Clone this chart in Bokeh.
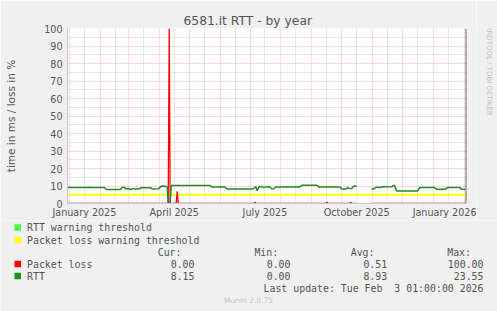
import math
import pandas as pd
from bokeh.plotting import figure
from bokeh.layouts import column, row
from bokeh.models import (Range1d, FixedTicker, DatetimeTickFormatter, Title, Span)
from bokeh.core.properties import value
from bokeh.embed import file_html
from bokeh.resources import INLINE

# ---------------- data ----------------
TITLE = "6581.it RTT - by year"
Y_LABEL = "time in ms / loss in %"
SIDE_TEXT = "RRDTOOL / TOBI OETIKER"
FOOTER = "Munin 2.0.75"
RANGE_START = "2024-12-30 01:00"
RANGE_END = "2026-02-03 01:00"
Y_TICKS = [0, 10, 20, 30, 40, 50, 60, 70, 80, 90, 100]
Y_MINOR = [5, 15, 25, 35, 45, 55, 65, 75, 85, 95]
X_LABEL_DATES = ["2025-01-16", "2025-04-16", "2025-07-16", "2025-10-16", "2026-01-16"]
MONTH_STARTS = ["2025-01-01", "2025-02-01", "2025-03-01", "2025-04-01", "2025-05-01",
                "2025-06-01", "2025-07-01", "2025-08-01", "2025-09-01", "2025-10-01",
                "2025-11-01", "2025-12-01", "2026-01-01", "2026-02-01"]
MID_MONTHS = ["2025-01-16", "2025-02-16", "2025-03-16", "2025-04-16", "2025-05-16",
              "2025-06-16", "2025-07-16", "2025-08-16", "2025-09-16", "2025-10-16",
              "2025-11-16", "2025-12-16", "2026-01-16"]

NaN = float("nan")

RTT_DATES = ["2024-12-30", "2025-01-19", "2025-01-20", "2025-01-21", "2025-02-05",
             "2025-02-07", "2025-02-21", "2025-02-23", "2025-02-25", "2025-02-27",
             "2025-03-01", "2025-03-03", "2025-03-05", "2025-03-08", "2025-03-12",
             "2025-03-14", "2025-03-23", "2025-03-25", "2025-03-31", "2025-04-03",
             "2025-04-05", "2025-04-09", "2025-04-10", "2025-04-12", "2025-04-13",
             "2025-05-22", "2025-05-24", "2025-06-06", "2025-06-08", "2025-07-04",
             "2025-07-06", "2025-07-07", "2025-07-08", "2025-07-10", "2025-07-12",
             "2025-07-14", "2025-07-17", "2025-07-21", "2025-07-23", "2025-07-25",
             "2025-07-27", "2025-08-20", "2025-08-22", "2025-09-06", "2025-09-08",
             "2025-09-29", "2025-10-01", "2025-10-05", "2025-10-07", "2025-10-09",
             "2025-10-11", "2025-10-13", "2025-10-16", "2025-10-23", "2025-10-31",
             "2025-11-03", "2025-11-05", "2025-11-08", "2025-11-12", "2025-11-20",
             "2025-11-22", "2025-11-23", "2025-11-25", "2025-12-16", "2025-12-18",
             "2026-01-02", "2026-01-04", "2026-01-13", "2026-01-15", "2026-01-27",
             "2026-01-29", "2026-02-02"]
RTT_MS = [9.1, 9.1, 9.3, 9.1, 9.1,
          8.0, 8.0, 9.3, 9.3, 8.2,
          8.6, 8.0, 8.5, 8.3, 8.4,
          9.0, 9.0, 8.3, 8.4, 9.8,
          10.0, 9.6, 0.0, 0.0, 10.3,
          10.3, 9.4, 9.4, 8.3, 8.3,
          9.3, 9.6, 7.4, 9.4, 9.8,
          9.2, 9.5, 9.4, 8.3, 8.5,
          9.5, 9.5, 10.4, 10.4, 9.5,
          9.5, 8.3, 8.3, 9.0, 8.5,
          8.6, 10.0, 10.0, NaN, 8.0,
          8.8, 9.4, 9.2, 9.6, 9.5,
          10.3, 10.3, 7.1, 7.1, 9.1,
          9.1, 8.2, 8.2, 9.2, 9.2,
          8.2, 8.2]

LOSS_DATES = ["2024-12-30", "2025-04-10", "2025-04-11", "2025-04-12", "2025-04-18",
              "2025-04-19", "2025-04-20", "2025-07-05", "2025-07-06", "2025-07-07",
              "2025-09-15", "2025-09-16", "2025-09-17", "2025-10-09", "2025-10-10",
              "2025-10-11", "2025-10-16", "2025-10-23", "2025-10-31", "2026-02-02"]
LOSS_PCT = [0.0, 0.0, 100.0, 0.0, 0.0,
            7.0, 0.0, 0.0, 0.7, 0.0,
            0.0, 0.7, 0.0, 0.0, 0.7,
            0.0, 0.0, NaN, 0.0, 0.0]

LOSS_WARN = 5

LEGEND_NAMES = ["RTT warning threshold", "Packet loss warning threshold", "Packet loss", "RTT"]
LEGEND_COLORS = ["#44FF44", "#FFFF00", "#FF0000", "#228B22"]
STAT_HEADERS = ["Cur:", "Min:", "Avg:", "Max:"]
STATS_LOSS = ["0.00", "0.00", "0.51", "100.00"]
STATS_RTT = ["8.15", "0.00", "8.93", "23.55"]
LAST_UPDATE = "Last update: Tue Feb \u00a03 01:00:00 2026"

# ---------------- layout ----------------
W = 497
MAIN_W = 476
TOP_H, BOT_H = 220, 91
FL, FR, FT, FB = 67, 466, 28, 203   # frame edges in canvas pixels
BG = "#F0F0F0"
TXT = "#555555"
AXIS_BLUE = "#C4C4F4"


def ms(d):
    return (pd.Timestamp(d) - pd.Timestamp("1970-01-01")).total_seconds() * 1000.0


x0, x1 = pd.Timestamp(RANGE_START), pd.Timestamp(RANGE_END)

p = figure(width=MAIN_W, height=TOP_H, x_axis_type="datetime", output_backend="svg",
           toolbar_location=None,
           x_range=Range1d(x0, x1), y_range=Range1d(0, 100),
           min_border_left=FL, min_border_right=MAIN_W - FR,
           min_border_top=FT, min_border_bottom=TOP_H - FB,
           background_fill_color="white", border_fill_color=BG,
           outline_line_color=None)

p.title = Title(text=TITLE, align="left", offset=116, standoff=2,
                text_font="DejaVu Sans", text_font_size="12.3px",
                text_font_style="normal", text_color=TXT)

# grids
p.xgrid.ticker = FixedTicker(ticks=[ms(d) for d in MONTH_STARTS],
                             minor_ticks=[ms(d) for d in MID_MONTHS])
p.ygrid.ticker = FixedTicker(ticks=Y_TICKS, minor_ticks=Y_MINOR)
for g in (p.xgrid, p.ygrid):
    g.grid_line_color = "#FF0000"
    g.grid_line_alpha = 0.3
    g.grid_line_dash = "1 1"
    g.minor_grid_line_color = "#808080"
    g.minor_grid_line_alpha = 0.35
    g.minor_grid_line_dash = "1 1"

# axes
p.xaxis.ticker = FixedTicker(ticks=[ms(d) for d in X_LABEL_DATES])
p.xaxis.formatter = DatetimeTickFormatter(
    years="%B %Y", months="%B %Y", days="%B %Y", hours="%B %Y",
    minutes="%B %Y", seconds="%B %Y", milliseconds="%B %Y", minsec="%B %Y",
    hourmin="%B %Y")
p.yaxis.ticker = FixedTicker(ticks=Y_TICKS)
for ax in (p.xaxis, p.yaxis):
    ax.axis_line_color = AXIS_BLUE
    ax.major_tick_out = 0
    ax.major_tick_in = 0
    ax.minor_tick_out = 0
    ax.minor_tick_in = 0
    ax.major_label_text_font = "DejaVu Sans"
    ax.major_label_text_font_size = "9.6px"
    ax.major_label_text_color = TXT
p.xaxis.major_label_standoff = 3
p.yaxis.major_label_standoff = 5
p.yaxis.axis_label = Y_LABEL
p.yaxis.axis_label_text_font = "DejaVu Sans"
p.yaxis.axis_label_text_font_size = "10.5px"
p.yaxis.axis_label_text_font_style = "normal"
p.yaxis.axis_label_text_color = TXT
p.yaxis.axis_label_standoff = 24

p.add_layout(Span(location=x1, dimension="height", line_color="#606060", line_width=2))

# series
p.line(x=[x0, x1], y=[LOSS_WARN, LOSS_WARN], line_color="#FFFF00", line_width=2)
p.line(x=pd.to_datetime(LOSS_DATES), y=LOSS_PCT, line_color="#FF0000", line_width=1.3)
p.line(x=pd.to_datetime(RTT_DATES), y=RTT_MS, line_color="#228B22", line_width=1.5)

# ---------------- side strip (pixel coordinates) ----------------
s = figure(width=W - MAIN_W, height=TOP_H, output_backend="svg", toolbar_location=None,
           x_range=Range1d(MAIN_W, W), y_range=Range1d(TOP_H, 0),
           min_border=0, x_axis_location=None, y_axis_location=None,
           background_fill_color=BG, border_fill_color=BG, outline_line_color=None)
s.grid.visible = False
s.text(x=[488], y=[53], text=[SIDE_TEXT], text_font=value("DejaVu Sans"),
       text_font_size=value("7px"), text_color="#C0C0C0", text_align="center",
       text_baseline="middle", angle=-math.pi / 2)

# ---------------- legend panel (pixel coordinates) ----------------
q = figure(width=W, height=BOT_H, output_backend="svg", toolbar_location=None,
           x_range=Range1d(0, W), y_range=Range1d(TOP_H + BOT_H, TOP_H),
           min_border=0, x_axis_location=None, y_axis_location=None,
           background_fill_color=BG, border_fill_color=BG, outline_line_color=None)
q.grid.visible = False

MONO = value("DejaVu Sans Mono")
FS = value("9.9px")
rows_y = [227, 239.5, 263.5, 275.5]
q.quad(left=[14] * 4, right=[20.5] * 4, top=[y - 3.2 for y in rows_y],
       bottom=[y + 3.2 for y in rows_y], fill_color=LEGEND_COLORS, line_color=None)
q.text(x=[26.5] * 4, y=rows_y, text=LEGEND_NAMES, text_font=MONO, text_font_size=FS,
       text_color=TXT, text_align="left", text_baseline="middle")

hdr_right = [181, 277.7, 374, 470.5]
val_right = [194, 290, 386.7, 483]
q.text(x=hdr_right, y=[252] * 4, text=STAT_HEADERS, text_font=MONO, text_font_size=FS,
       text_color=TXT, text_align="right", text_baseline="middle")
q.text(x=val_right, y=[263.5] * 4, text=STATS_LOSS, text_font=MONO, text_font_size=FS,
       text_color=TXT, text_align="right", text_baseline="middle")
q.text(x=val_right, y=[275.5] * 4, text=STATS_RTT, text_font=MONO, text_font_size=FS,
       text_color=TXT, text_align="right", text_baseline="middle")
q.text(x=[483], y=[287.7], text=[LAST_UPDATE], text_font=MONO, text_font_size=FS,
       text_color=TXT, text_align="right", text_baseline="middle")
q.text(x=[248], y=[300], text=[FOOTER], text_font=value("DejaVu Sans"),
       text_font_size=value("7.5px"), text_color="#C4C4C4", text_align="center",
       text_baseline="middle")

layout = column(row(p, s, spacing=0), q, spacing=0)
open("out.html", "w").write(file_html(layout, INLINE))
